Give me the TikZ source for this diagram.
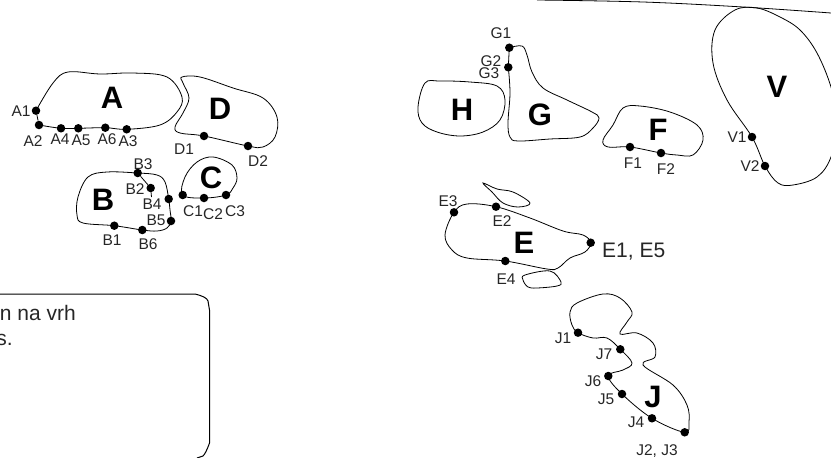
\documentclass[tikz,border=0pt]{standalone}
\usepackage{fontspec}
\setmainfont{Liberation Sans}
\tikzset{
  outline/.style={draw=black,line width=0.8pt,tension=0.6},
  pt/.style={circle,fill=black,inner sep=0pt,minimum size=8.5pt},
  lab/.style={inner sep=0pt,text=black!85,font=\fontsize{15.5}{16}\selectfont},
  biglab/.style={inner sep=0pt,font=\fontsize{31}{32}\selectfont\bfseries},
  midlab/.style={inner sep=0pt,text=black!85,font=\fontsize{21}{23}\selectfont}
}
\begin{document}
\begin{tikzpicture}[x=1pt,y=-1pt]
\useasboundingbox (0,0) rectangle (831,458);
\clip (0,0) rectangle (831,458);
% points
\foreach \n/\x/\y in {a1/36/110.7,a2/39/125,a4/61/128.3,a5/78.3/128.3,a6/105.3/127.7,a3/126.7/129.3,
 d1/204/136,d2/248/146,c1/182.7/195,c2/204/198,c3/226/195,
 b3/137.7/173,b2/150.7/188,b4/168.7/199,b5/171/221,b6/142.3/230,b1/114.3/225.7,
 g1/509.3/47.7,g3/508.3/67.3,f1/630/147,f2/661/153,v1/752/137,v2/765/166,
 e3/454/212.3,e2/496/206.7,e1/590.7/242.7,e4/505.3/261,
 j1/578/332.7,j7/620.3/349.3,j6/608.3/376,j5/622/394,j4/652/418.3,j2/684.7/432.3}
 {\node[pt] (\n) at (\x,\y) {};}
% outlines
\draw[outline] (a2) -- (a1) plot[smooth] coordinates {(a1) (53,83) (68,72) (100,74) (133,73) (167,77) (182,97) (177,112) (160,125) (a3) (a6) (a5) (a4) (a2)};
\draw[outline] plot[smooth cycle] coordinates {(182,77) (200,77) (233,88) (263,98) (277,117) (275,137) (263,147) (d2) (d1) (180,133) (175,127) (183,113) (189,98) (183,83)};
\draw[outline] plot[smooth cycle] coordinates {(c1) (185,177) (197,162) (213,157) (232,165) (237,178) (233,188) (c3) (c2)};
\draw[outline] plot[smooth cycle] coordinates {(b3) (157,175) (165,182) (b4) (170,210) (b5) (167,228) (157,231) (b6) (b1) (83,223) (77,215) (78,197) (88,177) (107,172)};
\draw[outline] (b3) -- (b2) -- (151.5,197);
\draw[outline,line width=1pt] (0,294) -- (195,294) .. controls (203,296) and (207,298) .. (208,301) -- (209.5,310) -- (209.5,443) .. controls (207,450) and (205,454) .. (203,456) -- (197,458);
\draw[outline] plot[smooth cycle] coordinates {(425,83) (440,81) (470,82) (497,86) (505,100) (500,120) (483,132) (460,136) (437,132) (422,123) (418,107)};
\draw[outline] (g3) -- (g1) plot[smooth] coordinates {(g1) (522,46) (527,55) (532,72) (543,88) (567,100) (592,112) (599,118) (593,128) (580,137) (550,139) (518,141) (510,137) (508,123) (510,93) (g3)};
\draw[outline] plot[smooth cycle] coordinates {(f1) (f2) (677,155) (693,155) (703,140) (697,125) (670,112) (640,106) (623,108) (613,125) (603,140) (608,147)};
\draw[outline] plot[smooth cycle] coordinates {(735,10) (757,8) (780,17) (800,30) (817,53) (831,87) (838,122) (831,157) (817,177) (793,185) (778,183) (v2) (v1) (727,100) (713,63) (715,30)};
\draw[outline] plot[smooth] coordinates {(537,0) (643,2) (743,7) (831,13)};
\draw[outline] plot[smooth cycle] coordinates {(e3) (467,204) (e2) (530,218) (563,231) (583,235) (e1) (585,252) (570,258) (558,268) (547,269) (e4) (467,258) (452,250) (445,235)};
\draw[outline] plot[smooth cycle] coordinates {(483,183) (497,189) (513,192) (530,203) (518,207) (503,203) (492,192)};
\draw[outline] plot[smooth cycle] coordinates {(525,275) (550,271) (561,282) (557,286) (537,288) (528,287) (523,280)};
\draw[outline] plot[smooth cycle] coordinates {(j1) (593,338) (607,338) (j7) (632,363) (623,370) (j6) (j5) (j4) (j2) (689,422) (687,405) (673,385) (643,365) (655,357) (653,343) (637,333) (620,334) (627,322) (632,312) (620,298) (603,294) (577,303) (570,312) (572,325)};
% box text
\node[midlab,anchor=base east] (t1) at (76,320.7) {n na vrh};
\node[midlab,anchor=base east] (t2) at (13,345.7) {s.};
% big letters
\foreach \n/\t/\x/\y in {la/A/112/98,ld/D/220/109,lc/C/211/178,lb/B/103/200,lg/G/540/115,lh/H/462/110,lf/F/658/130,lv/V/777/87,le/E/524/243,lj/J/653/397}
 {\node[biglab] (\n) at (\x,\y) {\t};}
% small labels
\foreach \n/\t/\x/\y in {ta1/A1/21/111,ta2/A2/33/141,ta4/A4/60/139,ta5/A5/81/140,ta6/A6/107/139,ta3/A3/128/141,
 td1/D1/184/149,td2/D2/258/161,tc1/C1/193/211,tc2/C2/213/214,tc3/C3/235/211,
 tb3/B3/143/164,tb2/B2/135/189,tb4/B4/152/204,tb5/B5/156/220,tb1/B1/112/240,tb6/B6/148/244,
 tg1/G1/501/33,tg2/G2/491/61,tg3/G3/489/73,tf1/F1/633/163,tf2/F2/666/169,tv1/V1/737/137,tv2/V2/750/166,
 te3/E3/448/201,te2/E2/502/221,te4/E4/506/279,
 tj1/J1/563/338,tj7/J7/604/354,tj6/J6/593/381,tj5/J5/606/399,tj4/J4/636/422}
 {\node[lab] (\n) at (\x,\y) {\t};}
\node[lab] (tj2) at (657,451) {J2, J3};
\node[midlab,anchor=west] (te1) at (602,252) {E1, E5};
\end{tikzpicture}
\end{document}
